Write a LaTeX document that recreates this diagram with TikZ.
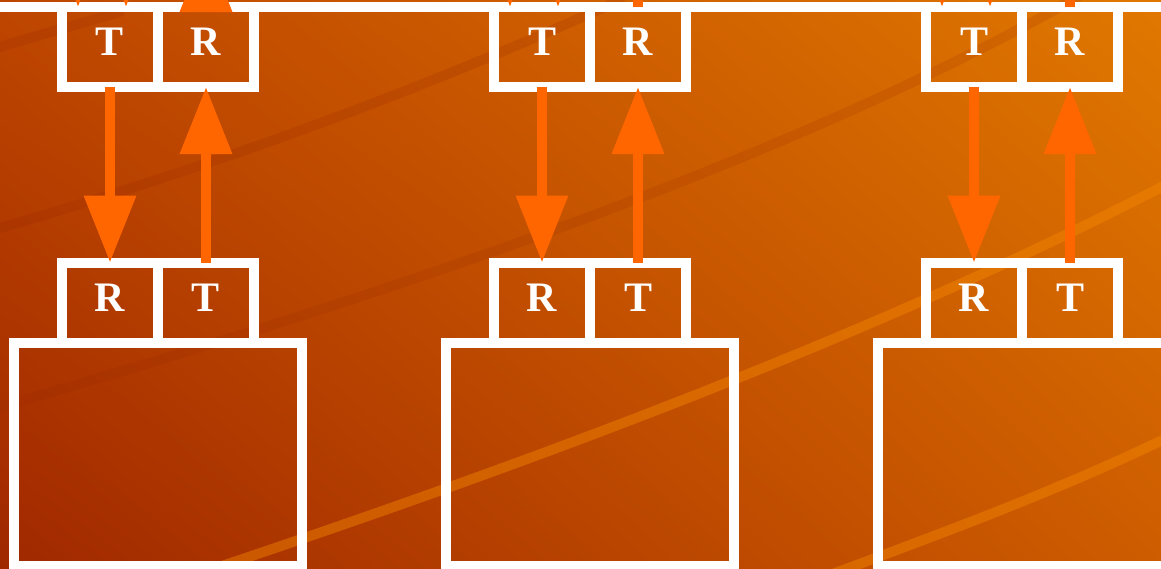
\documentclass[tikz,border=0pt]{standalone}
\usepackage{fontspec}
\setmainfont{Liberation Serif}
\usetikzlibrary{arrows.meta, shadings}

\definecolor{flowor}{RGB}{255,102,0}
\definecolor{streaklt}{RGB}{245,135,0}
\definecolor{streakdk}{RGB}{150,36,0}
\definecolor{bgtl}{RGB}{190,70,0}
\definecolor{bgtr}{RGB}{224,120,0}
\definecolor{bgbl}{RGB}{160,40,0}
\definecolor{bgbr}{RGB}{205,92,0}

\begin{document}
\begin{tikzpicture}[x=1pt, y=-1pt,
  port/.style={draw=white, line width=10pt, minimum width=96pt, minimum height=80.5pt,
    inner sep=0pt, outer sep=0pt, text=white, text depth=10pt,
    font=\bfseries\fontsize{42}{42}\selectfont},
  host/.style={draw=white, line width=10pt, minimum width=288pt,
    minimum height=223pt, outer sep=0pt},
  flow/.style={draw=flowor, line width=10pt, -{Triangle[length=67pt, width=50pt]}},
  streak/.style={line width=10pt, line cap=round}]
  \useasboundingbox (0,0) rectangle (1161,568);
  \clip (0,0) rectangle (1161,568);
  % background
  \shade[upper left=bgtl, upper right=bgtr, lower left=bgbl, lower right=bgbr]
    (0,0) rectangle (1161,568);
  \draw[streak, streakdk, opacity=0.18] (-10,50) .. controls (40,35) .. (120,12);
  \draw[streak, streakdk, opacity=0.18] (-10,231) .. controls (200,170) and (400,100) .. (620,0);
  \draw[streak, streakdk, opacity=0.15] (-10,410) .. controls (300,320) and (760,180) .. (1090,-10);
  \draw[streak, streaklt, opacity=0.45] (180,580) .. controls (450,490) and (850,350) .. (1175,180);
  \draw[streak, streaklt, opacity=0.45] (830,575) .. controls (950,530) and (1060,490) .. (1175,434);

  % bus along the top
  \coordinate (busL) at (-20,6.5);
  \coordinate (busR) at (1200,6.5);
  \draw[white, line width=10pt] (busL) -- (busR);

  % three stations
  \foreach \i/\dx in {1/0, 2/432, 3/864} {
    \node[port] (txtop\i) at (110+\dx,46.75) {T};
    \node[port] (rxtop\i) at (206+\dx,46.75) {R};
    \node[port] (rxbot\i) at (110+\dx,302.75) {R};
    \node[port] (txbot\i) at (206+\dx,302.75) {T};
    \node[host] (host\i) at (157.5+\dx,454.5) {};
    \draw[flow] (txtop\i.south) -- (rxbot\i.north);
    \draw[flow] (txbot\i.north) -- (rxtop\i.south);
    % feeds coming in from above
    \coordinate (inA\i) at (78+\dx,-80);
    \coordinate (inB\i) at (126+\dx,-80);
    \draw[flow] (inA\i) -- (78+\dx,7);
    \draw[flow] (inB\i) -- (126+\dx,7);
  }
  % outgoing links
  \draw[flow] ([yshift=-5.5pt]rxtop1.north) -- ++(0,-67);
  \coordinate (out2) at (638,-30);
  \coordinate (out3) at (1070,-30);
  \draw[flowor, line width=10pt] (rxtop2.north) -- (out2);
  \draw[flowor, line width=10pt] (rxtop3.north) -- (out3);
\end{tikzpicture}
\end{document}
